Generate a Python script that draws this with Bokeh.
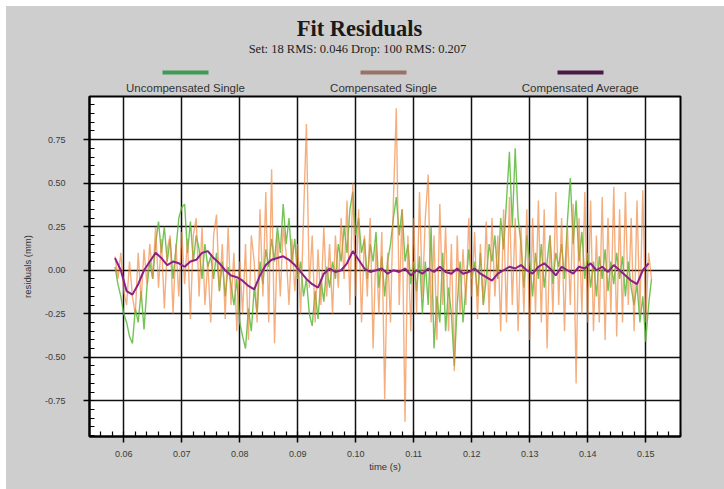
import numpy as np
from bokeh.plotting import figure
from bokeh.layouts import column
from bokeh.models import Range1d, SingleIntervalTicker, PrintfTickFormatter
from bokeh.core.properties import value
from bokeh.embed import file_html
from bokeh.resources import INLINE

# ---------------- data ----------------
title_text = "Fit Residuals"
subtitle_text = "Set: 18 RMS: 0.046 Drop: 100 RMS: 0.207"
series_names = ["Uncompensated Single", "Compensated Single", "Compensated Average"]
x_label = "time (s)"
y_label = "residuals (mm)"

single_t0 = 0.0585
single_dt = 0.0005
uncompensated_single = [
    0.02, -0.08, -0.15, -0.25,
    -0.30, -0.38, -0.42, -0.22, -0.30, -0.12, -0.34, -0.10, 0.05, -0.05,
    0.15, 0.28, 0.10, 0.25, 0.05, 0.18, -0.05, 0.12, 0.30, 0.36,
    0.38, 0.10, 0.28, 0.05, 0.20, 0.12, -0.05, 0.15, 0.02, 0.08,
    -0.05, 0.10, -0.12, 0.05, -0.15, 0.02, -0.08, -0.20, -0.05, -0.30,
    -0.38, -0.45, -0.22, -0.35, -0.10, -0.25, 0.05, -0.08, 0.12, 0.02,
    0.18, 0.05, 0.25, 0.10, 0.38, 0.15, 0.30, 0.05, 0.18, -0.05,
    0.05, -0.15, -0.05, -0.25, -0.32, -0.12, -0.28, -0.05, -0.18, 0.02,
    -0.10, 0.05, -0.05, 0.15, 0.05, 0.25, 0.10, 0.35, 0.45, 0.20,
    0.30, 0.10, 0.18, -0.05, 0.15, 0.05, 0.22, -0.10, 0.08, -0.15,
    0.05, 0.15, 0.30, 0.42, 0.20, 0.35, 0.05, 0.15, -0.08, 0.05,
    -0.12, 0.08, -0.25, 0.05, -0.20, 0.25, -0.45, -0.15, -0.30, 0.10,
    -0.35, -0.10, -0.25, -0.55, -0.20, 0.05, -0.30, -0.10, 0.12, -0.05,
    0.05, -0.15, 0.10, -0.20, -0.05, 0.15, 0.05, 0.20, -0.05, 0.30,
    0.12, 0.40, 0.68, 0.25, 0.70, 0.30, 0.15, -0.10, 0.20, 0.05,
    -0.15, 0.10, -0.05, 0.15, -0.10, 0.05, 0.20, -0.08, 0.10, 0.02,
    0.15, -0.05, 0.28, 0.53, 0.15, 0.40, 0.05, 0.22, -0.05, 0.10,
    -0.10, 0.05, -0.15, 0.08, -0.05, 0.12, -0.12, 0.05, -0.08, 0.10,
    -0.05, 0.08, -0.15, 0.05, -0.10, -0.20, -0.08, -0.30, -0.15, -0.41,
    -0.20, -0.05,
]
compensated_single = [
    0.08, -0.05, 0.10, -0.12,
    -0.20, 0.05, -0.15, -0.25, 0.10, -0.18, 0.12, -0.08, 0.15, -0.05,
    0.25, -0.10, 0.18, -0.22, 0.12, 0.20, -0.25, 0.15, -0.15, 0.22,
    -0.08, 0.18, -0.28, 0.20, 0.30, -0.15, 0.25, -0.20, 0.05, -0.30,
    0.20, 0.32, -0.12, 0.15, -0.28, 0.25, -0.20, 0.10, -0.35, 0.05,
    -0.25, 0.15, -0.40, 0.20, 0.05, -0.30, 0.35, -0.15, 0.45, -0.30,
    0.58, -0.42, 0.20, -0.15, 0.25, 0.10, -0.20, 0.18, -0.12, 0.15,
    -0.25, 0.30, 0.84, -0.10, 0.20, -0.30, 0.12, -0.20, 0.25, -0.15,
    0.15, -0.25, 0.20, -0.10, 0.30, -0.05, 0.40, -0.20, 0.50, -0.15,
    0.35, -0.30, 0.20, -0.15, 0.30, -0.45, 0.15, -0.25, 0.22, -0.74,
    0.10, -0.30, 0.40, 0.93, -0.20, 0.35, -0.87, 0.20, -0.35, 0.30,
    -0.25, 0.45, -0.15, 0.30, 0.55, -0.30, 0.20, -0.40, 0.38, -0.20,
    0.25, -0.35, 0.15, -0.58, 0.20, -0.25, 0.12, -0.20, 0.30, -0.15,
    0.22, -0.28, 0.15, -0.20, 0.28, -0.25, 0.30, -0.15, 0.20, -0.35,
    0.35, -0.30, 0.42, -0.20, 0.30, -0.35, 0.25, -0.25, 0.35, -0.40,
    0.30, -0.25, 0.40, -0.30, 0.35, -0.45, 0.20, -0.25, 0.45, -0.20,
    0.30, -0.35, 0.25, -0.20, 0.38, -0.65, 0.30, -0.25, 0.45, -0.30,
    0.40, -0.35, 0.20, -0.30, 0.42, -0.40, 0.30, -0.25, 0.48, -0.38,
    0.35, -0.30, 0.45, -0.20, 0.30, -0.35, 0.40, -0.25, 0.46, -0.30,
    0.10, -0.05,
]

avg_t0 = 0.0585
avg_dt = 0.001
compensated_average = [
    0.07, 0.00, -0.12, -0.14, -0.08, 0.00, 0.05, 0.10, 0.07, 0.03,
    0.05, 0.04, 0.02, 0.05, 0.06, 0.10, 0.11, 0.07, 0.04, 0.00,
    -0.03, -0.04, -0.06, -0.09, -0.11, -0.03, 0.03, 0.06, 0.07, 0.08,
    0.06, 0.03, -0.01, -0.05, -0.08, -0.10, -0.02, 0.01, -0.01, 0.00,
    0.04, 0.11, 0.06, 0.01, -0.01, 0.00, 0.01, -0.02, 0.00, -0.01,
    0.01, -0.03, 0.00, -0.02, 0.01, -0.01, 0.02, -0.01, -0.02, 0.01,
    -0.02, -0.01, 0.01, -0.02, -0.04, -0.06, -0.02, 0.00, 0.02, 0.01,
    0.03, 0.00, -0.02, 0.02, 0.04, 0.01, -0.03, 0.02, 0.00, -0.02,
    0.02, 0.01, 0.04, 0.00, 0.02, -0.01, 0.03, 0.00, -0.03, -0.06,
    -0.08, 0.00, 0.04,
]

x_start, x_end = 0.0541, 0.1560
y_start, y_end = -0.955, 0.998

series_colors = ["#5cb83a", "#f0843a", "#8c1f88"]
legend_bar_colors = ["#3f9a55", "#9a7068", "#4a1845"]

# ---------------- layout ----------------
BG = "#cecece"
W = 718
BL, BR = 83, 44   # shared left/right borders of both stacked figures

# header: title, subtitle, legend (canvas-pixel coordinates, y downward)
hdr_h = 89
hdr = figure(width=W, height=hdr_h, output_backend="svg", toolbar_location=None,
             x_range=Range1d(BL, W - BR), y_range=Range1d(hdr_h, 0),
             x_axis_type=None, y_axis_type=None,
             min_border_left=BL, min_border_right=BR,
             min_border_top=0, min_border_bottom=0)
hdr.border_fill_color = BG
hdr.background_fill_color = BG
hdr.outline_line_color = None
hdr.xgrid.visible = False
hdr.ygrid.visible = False

hdr.text(x=[353], y=[22], text=[title_text], text_font=value("Liberation Serif"),
         text_font_style="bold", text_font_size="22.5px", text_align="center",
         text_baseline="middle", text_color="#1a1a1a")
hdr.text(x=[351], y=[42], text=[subtitle_text], text_font=value("Liberation Serif"),
         text_font_size="12.5px", text_align="center", text_baseline="middle",
         text_color="#222222")

legend_cx = [179, 377, 574]
hdr.segment(x0=[c - 23 for c in legend_cx], x1=[c + 23 for c in legend_cx],
            y0=[66] * 3, y1=[66] * 3, line_color=legend_bar_colors, line_width=4)
hdr.text(x=legend_cx, y=[81] * 3, text=series_names, text_font=value("Liberation Sans"),
         text_font_size="11.5px", text_align="center", text_baseline="middle",
         text_color="#333333")

# main plot
main_h = 489 - 6 - hdr_h
p = figure(width=W, height=main_h, output_backend="svg", toolbar_location=None,
           x_range=Range1d(x_start, x_end), y_range=Range1d(y_start, y_end),
           min_border_left=BL, min_border_right=BR, min_border_top=1, min_border_bottom=53)
p.border_fill_color = BG
p.background_fill_color = "white"
p.outline_line_color = "black"
p.outline_line_width = 2

t_single = single_t0 + single_dt * np.arange(len(uncompensated_single))
t_single2 = single_t0 + single_dt * np.arange(len(compensated_single))
t_avg = avg_t0 + avg_dt * np.arange(len(compensated_average))

p.line(t_single, uncompensated_single, line_color=series_colors[0], line_width=1.4, line_alpha=0.85)
p.line(t_single2, compensated_single, line_color=series_colors[1], line_width=1.4, line_alpha=0.65)
p.line(t_avg, compensated_average, line_color=series_colors[2], line_width=2.0)

p.xaxis.ticker = SingleIntervalTicker(interval=0.01, num_minor_ticks=5)
p.yaxis.ticker = SingleIntervalTicker(interval=0.25, num_minor_ticks=5)
p.xaxis.formatter = PrintfTickFormatter(format="%.2f")
p.yaxis.formatter = PrintfTickFormatter(format="%.2f")

for ax in (p.xaxis, p.yaxis):
    ax.axis_line_color = "black"
    ax.axis_line_width = 2
    ax.major_tick_line_color = "black"
    ax.major_tick_line_width = 1.5
    ax.major_tick_out = 6
    ax.major_tick_in = 0
    ax.minor_tick_line_color = "black"
    ax.minor_tick_line_width = 1.2
    ax.minor_tick_in = 5
    ax.minor_tick_out = 0
    ax.major_label_text_font = "Liberation Sans"
    ax.major_label_text_font_size = "9px"
    ax.major_label_text_color = "#3a3a3a"
    ax.axis_label_text_font = "Liberation Sans"
    ax.axis_label_text_font_size = "9.5px"
    ax.axis_label_text_font_style = "normal"
    ax.axis_label_text_color = "#333333"

p.xaxis.axis_label = x_label
p.yaxis.axis_label = y_label
p.xaxis.major_label_standoff = 8
p.xaxis.axis_label_standoff = 1
p.yaxis.major_label_standoff = 18
p.yaxis.axis_label_standoff = 9

p.xgrid.grid_line_color = "#111111"
p.xgrid.grid_line_width = 1.5
p.ygrid.grid_line_color = "#111111"
p.ygrid.grid_line_width = 1.5

layout = column(hdr, p, margin=(6, 0, 0, 6), spacing=0,
                styles={"background-color": BG})

open("out.html", "w").write(file_html(layout, INLINE))
